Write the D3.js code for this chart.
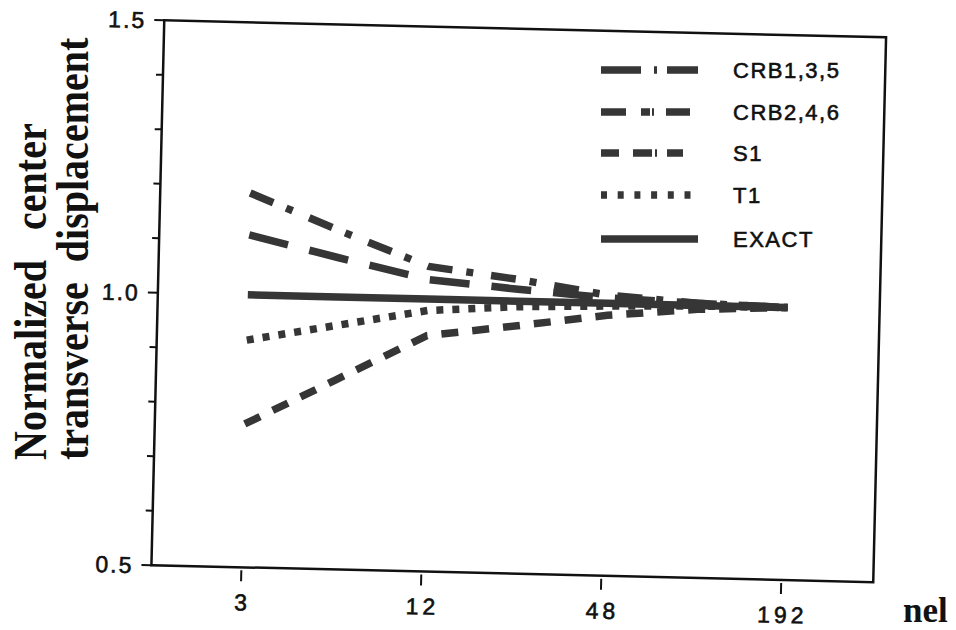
<!DOCTYPE html>
<html>
<head>
<meta charset="utf-8">
<script src="https://cdn.jsdelivr.net/npm/d3@7"></script>
<style>
  body { margin: 0; background: #fff; }
  svg { display: block; }
  .lab { font-family: 'Liberation Sans', Arial, sans-serif; fill: #111; stroke: #111; stroke-width: 0.6px; }
</style>
</head>
<body>
<div id="chart"></div>
<script>
var width = 956,
  height = 630;

// DATA
var nel = [3, 6, 12, 24, 48, 96, 192];
var crb135 = [1.187, 1.122, 1.060, 1.040, 1.015, 1.004, 1.0];
var crb246 = [1.110, 1.072, 1.036, 1.022, 1.010, 1.004, 1.0];
var s1 = [0.763, 0.848, 0.933, 0.955, 0.978, 0.993, 1.0];
var t1 = [0.917, 0.948, 0.979, 0.990, 0.995, 0.999, 1.0];
var exact = [1.0, 1.0, 1.0, 1.0, 1.0, 1.0, 1.0];

var xTicks = [3, 12, 48, 192];
var yMajor = [0.5, 1.0, 1.5];
var yMinor = [0.6, 0.7, 0.8, 0.9, 1.1, 1.2, 1.3, 1.4];

var seriesNames = ['CRB1,3,5', 'CRB2,4,6', 'S1', 'T1', 'EXACT'];
var seriesValues = [crb135, crb246, s1, t1, exact];

// line styles for the plot and the legend
var plotDash = ['25,14,7,18', '40,22', '17,14', '7,9', null];
var legendDash = ['40,13,3,10,31,100', '25,15,9,2,2,12,24,100', '18,14,19,3,2,10,16,100', '6,10.7', null];

var ink = '#363636';

// plot frame (the scan is tilted a little, so the frame is rotated)
var pw = 722, ph = 545;
var cx = 518.75, cy = 301.25, tilt = 1.35;

var svg = d3.select('#chart')
  .append('svg')
  .attr('width', width)
  .attr('height', height);

var x = d3.scaleLog().domain([1.5, 390]).range([0, pw]);
var y = d3.scaleLinear().domain([0.5, 1.5]).range([ph, 0]);

var plot = svg.append('g')
  .attr('transform', 'translate(' + cx + ',' + cy + ') rotate(' + tilt + ') translate(' + (-pw / 2) + ',' + (-ph / 2) + ')');

// data lines
var line = d3.line()
  .x(function(d) { return x(d[0]); })
  .y(function(d) { return y(d[1]); });

seriesValues.forEach(function(vals, i) {
  var pts = nel.map(function(n, j) { return [n, vals[j]]; });
  plot.append('path')
    .datum(pts)
    .attr('d', line)
    .attr('fill', 'none')
    .attr('stroke', ink)
    .attr('stroke-width', 7.5)
    .attr('stroke-linecap', 'butt')
    .attr('stroke-dasharray', plotDash[i]);
});

// frame
plot.append('rect')
  .attr('x', 0)
  .attr('y', 0)
  .attr('width', pw)
  .attr('height', ph)
  .attr('fill', 'none')
  .attr('stroke', '#111')
  .attr('stroke-width', 2.5);

// y ticks
plot.selectAll('.ymaj')
  .data(yMajor)
  .join('line')
  .attr('x1', -10).attr('x2', 0)
  .attr('y1', d => y(d)).attr('y2', d => y(d))
  .attr('stroke', '#111').attr('stroke-width', 2);

plot.selectAll('.ymin')
  .data(yMinor)
  .join('line')
  .attr('x1', -7).attr('x2', 0)
  .attr('y1', d => y(d)).attr('y2', d => y(d))
  .attr('stroke', '#111').attr('stroke-width', 2);

plot.selectAll('.ylab')
  .data(yMajor)
  .join('text')
  .attr('class', 'lab')
  .attr('x', -18)
  .attr('y', d => y(d))
  .attr('dy', '0.36em')
  .attr('text-anchor', 'end')
  .attr('font-size', 23)
  .attr('letter-spacing', 2)
  .text(d => d3.format('.1f')(d));

// x ticks
plot.selectAll('.xt')
  .data(xTicks)
  .join('line')
  .attr('x1', d => x(d)).attr('x2', d => x(d))
  .attr('y1', ph + 3).attr('y2', ph + 14)
  .attr('stroke', '#111').attr('stroke-width', 2);

plot.selectAll('.xlab')
  .data(xTicks)
  .join('text')
  .attr('class', 'lab')
  .attr('x', d => x(d) + 2)
  .attr('y', ph + 43)
  .attr('text-anchor', 'middle')
  .attr('font-size', 23)
  .attr('letter-spacing', 4)
  .text(d => d);

// legend
var legY = [70, 112, 153, 195, 239];
seriesNames.forEach(function(name, i) {
  svg.append('line')
    .attr('x1', 601).attr('x2', 698)
    .attr('y1', legY[i]).attr('y2', legY[i])
    .attr('stroke', ink)
    .attr('stroke-width', 7.5)
    .attr('stroke-dasharray', legendDash[i]);
  svg.append('text')
    .attr('class', 'lab')
    .attr('x', 733)
    .attr('y', legY[i] + 8)
    .attr('font-size', 22)
    .attr('letter-spacing', 1.5)
    .text(name);
});

// axis titles
var titleLines = ['Normalized\u00a0\u00a0\u00a0center', 'transverse\u00a0\u00a0displacement'];
var titleX = [46, 88];
titleLines.forEach(function(t, i) {
  svg.append('text')
    .attr('transform', 'translate(' + titleX[i] + ',460) rotate(-90) scale(0.87,1)')
    .attr('font-family', 'Liberation Serif, Times New Roman, serif')
    .attr('font-weight', 'bold')
    .attr('font-size', 46)
    .attr('fill', '#111')
    .text(t);
});

svg.append('text')
  .attr('x', 903)
  .attr('y', 622)
  .attr('font-family', 'Liberation Serif, Times New Roman, serif')
  .attr('font-weight', 'bold')
  .attr('font-size', 35)
  .attr('fill', '#111')
  .text('nel');
</script>
</body>
</html>
